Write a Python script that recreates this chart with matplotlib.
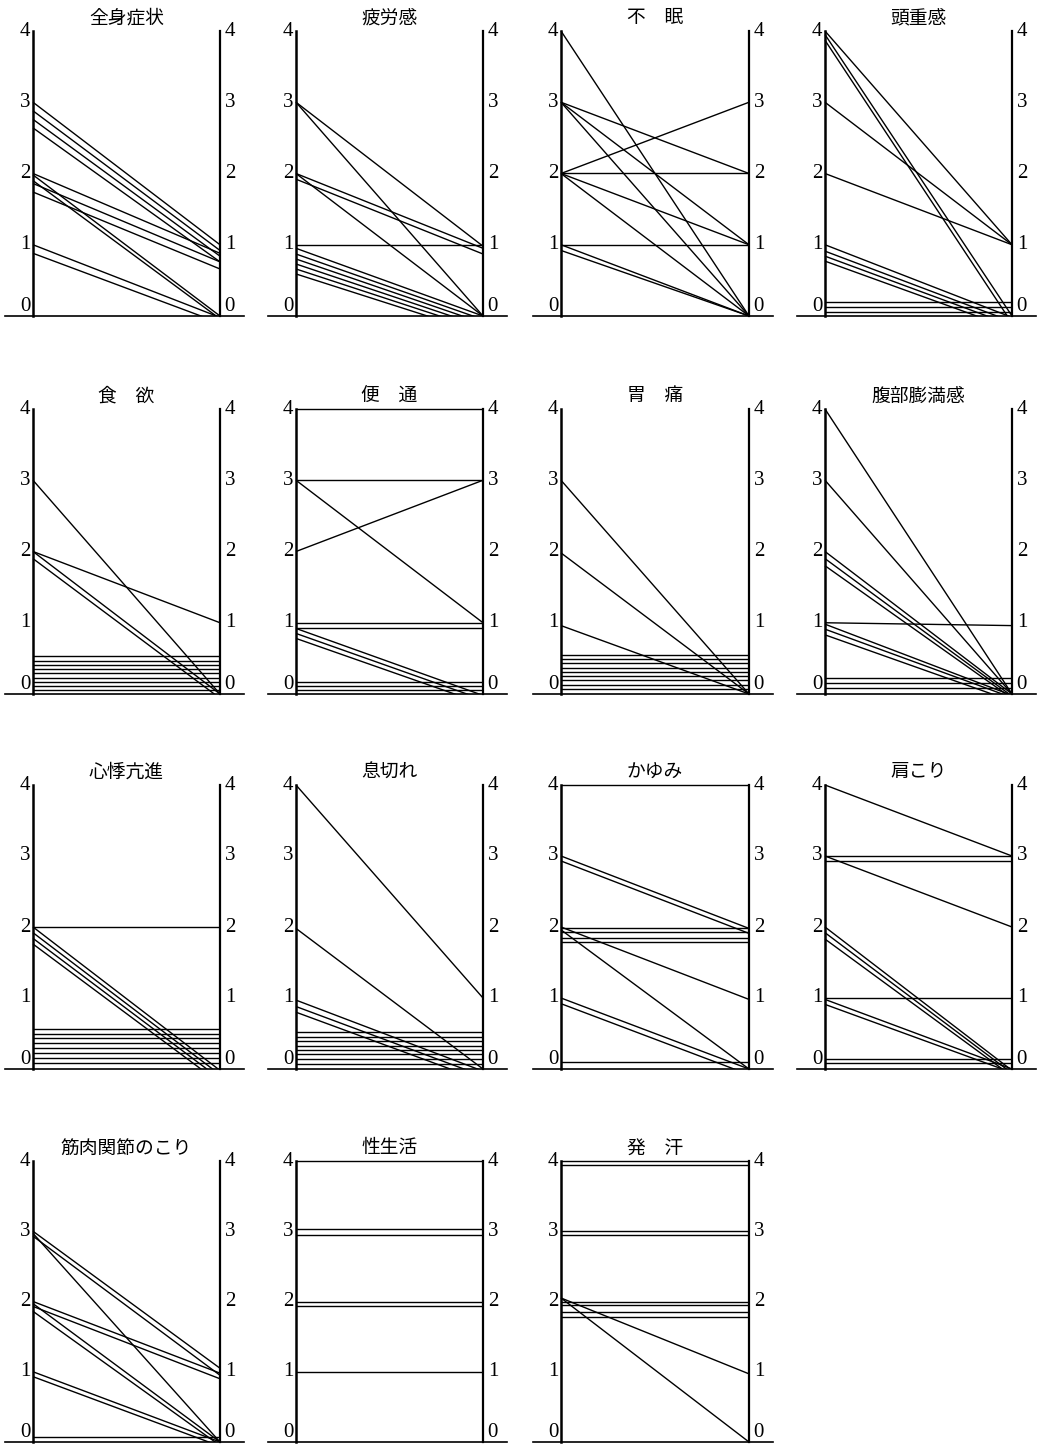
import matplotlib
matplotlib.use("Agg")
import matplotlib.pyplot as plt

plt.rcParams["font.family"] = ["Noto Sans CJK JP", "DejaVu Sans"]

# Symptom score before (left axis) and after (right axis), one line per case.
# Values are read as drawn (the original nudges coincident lines apart).
titles = ["全身症状", "疲労感", "不\u3000眠", "頭重感",
          "食\u3000欲", "便\u3000通", "胃\u3000痛", "腹部膨満感",
          "心悸亢進", "息切れ", "かゆみ", "肩こり",
          "筋肉関節のこり", "性生活", "発\u3000汗"]

before_1 = [3.00, 2.88, 2.76, 2.64, 2.00, 1.86, 1.74, 1.98, 1.90, 1.00, 0.88]
after_1 = [1.00, 0.92, 0.84, 0.76, 0.88, 0.76, 0.66, 0.00, -0.04, -0.02, -0.10]

before_2 = [3.00, 3.00, 2.00, 1.92, 2.00, 1.00, 0.95, 0.87, 0.80, 0.73, 0.66, 0.59]
after_2 = [0.98, 0.00, 0.95, 0.87, 0.00, 1.00, 0.00, -0.05, -0.10, -0.15, -0.20, -0.25]

before_3 = [4.0, 3.0, 3.0, 3.0, 2.0, 2.0, 2.0, 2.0, 1.0, 1.0, 0.92]
after_3 = [0.0, 2.0, 1.0, 0.0, 3.0, 2.0, 1.0, 0.0, 1.0, 0.0, 0.00]

before_4 = [4.00, 3.95, 3.87, 3.00, 2.00, 1.00, 0.91, 0.84, 0.77, 0.20, 0.13, 0.06]
after_4 = [1.00, 0.00, -0.10, 1.00, 1.00, -0.02, -0.08, -0.13, -0.18, 0.20, 0.13, 0.06]

before_5 = [3.00, 2.00, 2.00, 1.90, 0.53, 0.47, 0.41, 0.35, 0.29, 0.23, 0.17, 0.11, 0.05]
after_5 = [0.00, 1.00, 0.00, -0.06, 0.53, 0.47, 0.41, 0.35, 0.29, 0.23, 0.17, 0.11, 0.05]

before_6 = [4.0, 3.0, 3.0, 2.0, 1.00, 0.93, 0.92, 0.85, 0.78, 0.17, 0.11, 0.05]
after_6 = [4.0, 3.0, 1.0, 3.0, 1.00, 0.93, -0.02, -0.08, -0.14, 0.17, 0.11, 0.05]

before_7 = [3.00, 1.98, 0.96, 0.55, 0.49, 0.43, 0.37, 0.31, 0.25, 0.19, 0.13, 0.07]
after_7 = [0.00, 0.00, 0.00, 0.55, 0.49, 0.43, 0.37, 0.31, 0.25, 0.19, 0.13, 0.07]

before_8 = [4.00, 3.00, 2.00, 1.90, 1.80, 1.00, 0.98, 0.91, 0.83, 0.22, 0.15, 0.08]
after_8 = [0.00, 0.00, 0.00, -0.03, -0.06, 0.96, -0.02, -0.05, -0.10, 0.22, 0.15, 0.08]

before_9 = [2.00, 2.00, 1.92, 1.84, 1.76, 0.57, 0.50, 0.43, 0.36, 0.29, 0.22, 0.15, 0.08]
after_9 = [2.00, -0.02, -0.08, -0.14, -0.20, 0.57, 0.50, 0.43, 0.36, 0.29, 0.22, 0.15, 0.08]

before_10 = [4.00, 1.98, 0.97, 0.88, 0.80, 0.52, 0.45, 0.39, 0.33, 0.27, 0.21, 0.14, 0.07]
after_10 = [1.00, 0.00, -0.03, -0.10, -0.17, 0.52, 0.45, 0.39, 0.33, 0.27, 0.21, 0.14, 0.07]

before_11 = [4.0, 3.00, 2.93, 1.98, 1.93, 1.85, 1.79, 2.00, 1.96, 1.00, 0.92, 0.10]
after_11 = [4.0, 1.98, 1.91, 1.98, 1.93, 1.85, 1.79, 0.98, 0.00, 0.00, -0.08, 0.10]

before_12 = [4.0, 3.00, 2.93, 3.00, 2.00, 1.92, 1.83, 1.00, 0.98, 0.91, 0.14, 0.08]
after_12 = [3.0, 3.00, 2.93, 2.00, -0.02, -0.06, -0.10, 1.00, 0.00, -0.05, 0.14, 0.08]

before_13 = [3.00, 2.93, 2.97, 2.00, 1.93, 1.97, 1.86, 1.00, 0.93, 0.07]
after_13 = [1.05, 0.95, 0.00, 0.98, 0.90, 0.00, -0.05, 0.00, -0.06, 0.07]

before_14 = [4.0, 3.03, 2.95, 2.00, 1.94, 1.0]
after_14 = [4.0, 3.03, 2.95, 2.00, 1.94, 1.0]

before_15 = [4.00, 3.95, 3.00, 2.95, 2.00, 1.95, 1.85, 1.78, 2.05, 2.05]
after_15 = [4.00, 3.95, 3.00, 2.95, 2.00, 1.95, 1.85, 1.78, 0.97, 0.00]

before = [before_1, before_2, before_3, before_4, before_5, before_6, before_7,
          before_8, before_9, before_10, before_11, before_12, before_13,
          before_14, before_15]
after = [after_1, after_2, after_3, after_4, after_5, after_6, after_7,
         after_8, after_9, after_10, after_11, after_12, after_13,
         after_14, after_15]

score_ticks = [0, 1, 2, 3, 4]

# page layout in pixels
W, H = 1040, 1446
col_left = [33, 296, 561, 825]
col_right = [220, 483, 749, 1012]
row_top = [31, 409, 785, 1161]     # pixel row of score 4
row_base = [316, 694, 1069, 1442]  # pixel row of score 0 / baseline

YMAX = 4.6
fig = plt.figure(figsize=(W / 100, H / 100), dpi=100, facecolor="white")

for i, title in enumerate(titles):
    r, c = divmod(i, 4)
    L, R = col_left[c], col_right[c]
    top, base = row_top[r], row_base[r]
    unit = (base - top) / 4.0
    span = R - L
    x0 = -0.15
    x1 = 1.15
    ax_l = L + x0 * span
    ax_w = (x1 - x0) * span
    ax_h = YMAX * unit
    ax = fig.add_axes([ax_l / W, 1 - base / H, ax_w / W, ax_h / H])
    ax.set_xlim(x0, x1)
    ax.set_ylim(0, YMAX)
    ax.axis("off")

    for b, a in zip(before[i], after[i]):
        ax.plot([0, 1], [b, a], color="black", linewidth=1.0,
                solid_capstyle="butt")

    # the two score axes and the baseline
    ax.plot([0, 0], [0, 4], color="black", linewidth=1.8, clip_on=False)
    ax.plot([1, 1], [0, 4], color="black", linewidth=1.6, clip_on=False)
    ax.plot([-0.15, 1.13], [0, 0], color="black", linewidth=1.2,
            clip_on=False)

    for t in score_ticks:
        ty = t + 0.14 if t == 0 else t
        ax.text(-0.015, ty, str(t), ha="right", va="center", fontsize=15,
                family="Liberation Serif", color="black")
        ax.text(1.025, ty, str(t), ha="left", va="center", fontsize=15,
                family="Liberation Serif", color="black")

    fig.text((L + R) / 2 / W, 1 - (top - 13) / H, title, ha="center",
             va="center", fontsize=13.5, color="black")

fig.savefig("out.png", dpi=100, facecolor="white")
